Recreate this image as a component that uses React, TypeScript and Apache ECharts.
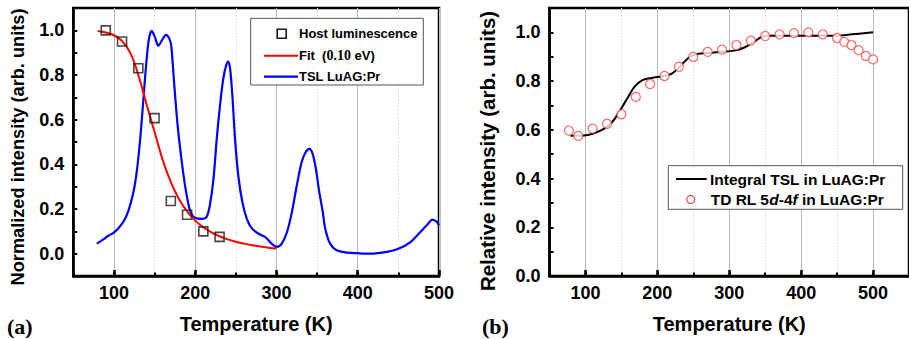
import React, { useEffect, useRef } from 'react';
import * as echarts from 'echarts';

// ---------- data ----------
const HOST_T = [90, 110, 130, 150, 170, 190, 210, 230];
const HOST_V = [1.0, 0.95, 0.83, 0.607, 0.236, 0.174, 0.1, 0.075];

const FIT_T = [80, 90, 100, 110, 120, 130, 140, 150, 160, 170, 180, 190, 200, 210, 220, 230, 240, 250, 260, 270, 280, 290, 300];
const FIT_V = [0.997, 0.99, 0.978, 0.952, 0.9, 0.8, 0.67, 0.545, 0.42, 0.32, 0.245, 0.189, 0.148, 0.118, 0.095, 0.078, 0.064, 0.053, 0.045, 0.038, 0.032, 0.027, 0.023];

const TSL_T = [79, 87, 93, 99, 105, 112, 118, 124, 128, 132, 136, 139.5, 143, 146.5, 150.5, 154.5, 159.5, 164, 168, 170.5, 174, 178, 182.5, 187.5, 193, 197, 202, 208, 214, 218, 222.5, 226.5, 230.5, 234.5, 238, 240.5, 243, 246, 249, 253, 258, 263.5, 270, 278, 286, 294, 300.5, 306.5, 313, 319, 325, 331, 336, 340.5, 344.5, 348.5, 352.5, 357, 360, 366, 374, 387, 400, 415, 436, 450, 465, 477, 485, 492, 497.5, 500];
const TSL_V = [0.045, 0.064, 0.08, 0.092, 0.112, 0.145, 0.194, 0.276, 0.365, 0.5, 0.678, 0.84, 0.96, 0.998, 0.969, 0.931, 0.958, 0.98, 0.964, 0.931, 0.768, 0.589, 0.44, 0.305, 0.201, 0.169, 0.158, 0.156, 0.164, 0.216, 0.335, 0.514, 0.663, 0.782, 0.842, 0.86, 0.827, 0.693, 0.514, 0.35, 0.231, 0.156, 0.112, 0.089, 0.075, 0.045, 0.03, 0.045, 0.097, 0.186, 0.305, 0.41, 0.455, 0.469, 0.447, 0.38, 0.28, 0.186, 0.112, 0.045, 0.015, 0.005, 0.002, 0.0, 0.008, 0.022, 0.052, 0.097, 0.127, 0.152, 0.142, 0.127];

const INT_T = [79, 89, 98, 112, 125.5, 137, 148, 160, 169, 180, 194, 207, 219, 228, 237, 246, 257, 271, 289, 307, 321, 335, 346, 357, 380, 405, 430, 449, 471, 500];
const INT_V = [0.576, 0.576, 0.577, 0.586, 0.604, 0.631, 0.679, 0.738, 0.779, 0.805, 0.814, 0.82, 0.829, 0.85, 0.877, 0.902, 0.912, 0.915, 0.92, 0.925, 0.938, 0.962, 0.982, 0.986, 0.986, 0.986, 0.986, 0.986, 0.992, 1.0];

const RL_T = [77, 90, 110, 130, 150, 170, 190, 210, 230, 250, 270, 290, 310, 330, 350, 370, 390, 410, 430, 450, 460, 470, 480, 490, 500];
const RL_V = [0.597, 0.575, 0.605, 0.625, 0.664, 0.735, 0.788, 0.821, 0.859, 0.899, 0.92, 0.929, 0.948, 0.966, 0.985, 0.992, 0.997, 1.0, 0.992, 0.977, 0.961, 0.948, 0.927, 0.903, 0.889];

const X_TICKS = [100, 200, 300, 400, 500];

const SANS = '"Liberation Sans", Arial, Helvetica, sans-serif';
const SERIF = '"Liberation Serif", "Times New Roman", serif';

const pairs = (xs: number[], ys: number[]) => xs.map((x, i) => [x, ys[i]]);

const yFmt = (v: number) => {
  const k = Math.round(v * 10);
  return k >= 0 && k % 2 === 0 ? (k / 10).toFixed(1) : '';
};

function minorX(grid: number, min: number, max: number) {
  return {
    type: 'value', gridIndex: grid, min, max, interval: 50, position: 'bottom',
    axisLine: { show: true, onZero: false, lineStyle: { color: '#000', width: 2.5 } },
    axisTick: { show: true, inside: true, length: 3.5, lineStyle: { color: '#000', width: 2 } },
    axisLabel: { show: false },
    splitLine: { show: true, lineStyle: { color: '#d9d9d9', width: 1, type: [1.5, 2] } },
  };
}
function majorX(grid: number, min: number, max: number) {
  return {
    type: 'value', gridIndex: grid, min, max, interval: 50, position: 'bottom',
    axisLine: { show: false, onZero: false },
    axisTick: { show: true, inside: true, length: 6, customValues: X_TICKS, lineStyle: { color: '#000', width: 2.5 } },
    axisLabel: { show: true, customValues: X_TICKS, fontSize: 18, fontWeight: 'bold', color: '#000', fontFamily: SANS, margin: 8 },
    splitLine: { show: true, lineStyle: { color: '#bcbcbc', width: 1 } },
    name: 'Temperature (K)', nameLocation: 'middle', nameGap: 38,
    nameTextStyle: { fontSize: 20, fontWeight: 'bold', color: '#000', fontFamily: SANS },
  };
}
function yAx(grid: number, min: number) {
  return {
    type: 'value', gridIndex: grid, min, max: 1.1, interval: 0.1,
    axisLine: { show: true, onZero: false, lineStyle: { color: '#000', width: 2.5 } },
    axisTick: { show: true, inside: true, length: 4, lineStyle: { color: '#000', width: 2 } },
    axisLabel: { formatter: yFmt, fontSize: 18, fontWeight: 'bold', color: '#000', fontFamily: SANS, margin: 9 },
    splitLine: { show: false },
  };
}

export default function App() {
  const ref = useRef<HTMLDivElement>(null);
  useEffect(() => {
    if (!ref.current) return;
    const chart = echarts.init(ref.current, undefined, { renderer: 'svg' });
    const legTxt = { fontSize: 13, fontWeight: 'bold', fill: '#000', fontFamily: SANS };
    chart.setOption({
      animation: false,
      backgroundColor: '#fff',
      grid: [
        { left: 73.3, top: 8, width: 365.7, height: 269, show: true, borderColor: '#000', borderWidth: 2.5, containLabel: false },
        { left: 549.5, top: 8, width: 366.5, height: 269.3, show: true, borderColor: '#000', borderWidth: 2.5, containLabel: false },
      ],
      xAxis: [minorX(0, 50, 500), majorX(0, 50, 500), minorX(1, 50, 550), majorX(1, 50, 550)],
      yAxis: [yAx(0, -0.1), yAx(1, 0)],
      series: [
        {
          type: 'line', name: 'TSL LuAG:Pr', xAxisIndex: 0, yAxisIndex: 0, data: pairs(TSL_T, TSL_V),
          showSymbol: false, smooth: 0.3, lineStyle: { color: '#0000ff', width: 2.2 }, itemStyle: { color: '#0000ff' }, z: 2,
        },
        {
          type: 'line', name: 'Fit (0.10 eV)', xAxisIndex: 0, yAxisIndex: 0, data: pairs(FIT_T, FIT_V),
          showSymbol: false, smooth: 0.4, lineStyle: { color: '#ff0000', width: 2 }, itemStyle: { color: '#ff0000' }, z: 3,
        },
        {
          type: 'scatter', name: 'Host luminescence', xAxisIndex: 0, yAxisIndex: 0, data: pairs(HOST_T, HOST_V),
          symbol: 'rect', symbolSize: 9, itemStyle: { color: 'rgba(0,0,0,0)', borderColor: '#1a1a1a', borderWidth: 1.6 }, z: 4,
        },
        {
          type: 'line', name: 'Integral TSL in LuAG:Pr', xAxisIndex: 2, yAxisIndex: 1, data: pairs(INT_T, INT_V),
          showSymbol: false, smooth: 0.4, lineStyle: { color: '#000', width: 2 }, itemStyle: { color: '#000' }, z: 2,
        },
        {
          type: 'scatter', name: 'TD RL 5d-4f in LuAG:Pr', xAxisIndex: 2, yAxisIndex: 1, data: pairs(RL_T, RL_V),
          symbol: 'circle', symbolSize: 9, itemStyle: { color: '#fff', borderColor: '#ff4444', borderWidth: 1.2 }, z: 4,
        },
      ],
      graphic: [
        // y-axis titles
        {
          type: 'text', x: 17.5, y: 147, rotation: Math.PI / 2,
          style: { text: 'Normalized intensity (arb. units)', align: 'center', verticalAlign: 'middle', fontSize: 18.2, fontWeight: 'bold', fill: '#000', fontFamily: SANS },
        },
        {
          type: 'text', x: 487.5, y: 151, rotation: Math.PI / 2,
          style: { text: 'Relative intensity (arb. units)', align: 'center', verticalAlign: 'middle', fontSize: 20.5, fontWeight: 'bold', fill: '#000', fontFamily: SANS },
        },
        // left legend
        { type: 'rect', shape: { x: 250.7, y: 18.3, width: 172.6, height: 66.7 }, style: { fill: '#fff', stroke: '#555', lineWidth: 1 }, z: 10 },
        { type: 'rect', shape: { x: 277.2, y: 29.2, width: 9, height: 9 }, style: { fill: 'none', stroke: '#1a1a1a', lineWidth: 1.6 }, z: 11 },
        { type: 'text', x: 299, y: 33.7, style: { ...legTxt, text: 'Host luminescence', verticalAlign: 'middle' }, z: 11 },
        { type: 'line', shape: { x1: 264, y1: 55.7, x2: 298, y2: 55.7 }, style: { stroke: '#ff0000', lineWidth: 2 }, z: 11 },
        {
          type: 'text', x: 299, y: 55.7, z: 11,
          style: {
            text: '{a|Fit  (}{b|0.10}{a| eV)}', verticalAlign: 'middle',
            rich: {
              a: { fontSize: 13, fontWeight: 'bold', fill: '#000', fontFamily: SANS },
              b: { fontSize: 14, fontWeight: 'bold', fill: '#000', fontFamily: SERIF },
            },
          },
        },
        { type: 'line', shape: { x1: 264, y1: 76.7, x2: 298, y2: 76.7 }, style: { stroke: '#0000ff', lineWidth: 2.2 }, z: 11 },
        { type: 'text', x: 299, y: 76.7, style: { ...legTxt, text: 'TSL LuAG:Pr', verticalAlign: 'middle' }, z: 11 },
        // right legend
        { type: 'rect', shape: { x: 668.3, y: 165.7, width: 234.4, height: 43.6 }, style: { fill: '#fff', stroke: '#555', lineWidth: 1 }, z: 10 },
        { type: 'line', shape: { x1: 676, y1: 179, x2: 706.7, y2: 179 }, style: { stroke: '#000', lineWidth: 2 }, z: 11 },
        { type: 'text', x: 710, y: 179, style: { text: 'Integral TSL in LuAG:Pr', verticalAlign: 'middle', fontSize: 15.5, fontWeight: 'bold', fill: '#000', fontFamily: SANS }, z: 11 },
        { type: 'circle', shape: { cx: 690.7, cy: 199.5, r: 4 }, style: { fill: '#fff', stroke: '#ff4444', lineWidth: 1.2 }, z: 11 },
        {
          type: 'text', x: 710.7, y: 199.5, z: 11,
          style: {
            text: '{a|TD RL 5}{i|d}{a|-4}{i|f}{a| in LuAG:Pr}', verticalAlign: 'middle',
            rich: {
              a: { fontSize: 15.5, fontWeight: 'bold', fill: '#000', fontFamily: SANS },
              i: { fontSize: 15.5, fontWeight: 'bold', fontStyle: 'italic', fill: '#000', fontFamily: SANS },
            },
          },
        },
        // panel labels
        { type: 'text', x: 7, y: 326.5, style: { text: '(a)', verticalAlign: 'middle', fontSize: 22, fontWeight: 'bold', fill: '#000', fontFamily: SERIF } },
        { type: 'text', x: 482, y: 326.5, style: { text: '(b)', verticalAlign: 'middle', fontSize: 22, fontWeight: 'bold', fill: '#000', fontFamily: SERIF } },
      ],
    });
    return () => chart.dispose();
  }, []);
  return <div ref={ref} style={{ position: 'fixed', left: 0, top: 0, width: 909, height: 339, background: '#fff' }} />;
}
